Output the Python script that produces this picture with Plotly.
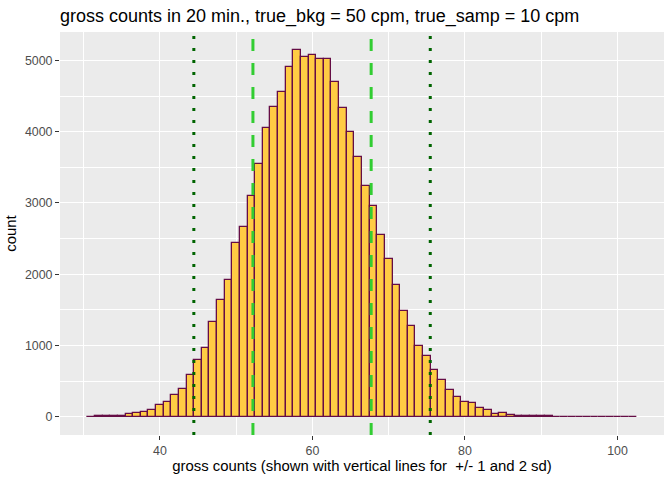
import plotly.graph_objects as go

# gross counts per bin (binwidth 1)
gross_counts = list(range(31, 103))
n_sims = [
    2, 12, 3, 12, 14, 40, 56, 68, 95, 165,
    200, 311, 390, 585, 795, 971, 1323, 1645, 1913, 2432,
    2657, 3092, 3541, 4047, 4342, 4553, 4904, 5143, 5049, 5073,
    5026, 5026, 4693, 4328, 3991, 3640, 3237, 2955, 2545, 2208,
    1843, 1478, 1271, 990, 845, 649, 522, 368, 270, 200,
    188, 115, 87, 31, 45, 20, 12, 9, 8, 6,
    5, 0, 0, 0, 0, 0, 0, 0, 0, 0,
    0, 1,
]

# vertical reference lines: mean +/- 1 sd and +/- 2 sd
lines_1sd = [52.2, 67.7]
lines_2sd = [44.45, 75.45]

title = "gross counts in 20 min., true_bkg = 50 cpm, true_samp = 10 cpm"
x_title = "gross counts (shown with vertical lines for \u00a0+/- 1 and 2 sd)"
y_title = "count"

fill_col = "#FFCC44"
edge_col = "#650D45"
font_fam = "Liberation Sans, Arial, sans-serif"

# ggplot-style 5% expansion
lo = min(gross_counts) - 0.5
hi = max(gross_counts) + 0.5
xpad = (hi - lo) * 0.05
ymax = max(n_sims)

fig = go.Figure()
fig.add_trace(go.Bar(
    x=gross_counts, y=n_sims, width=1,
    marker=dict(color=fill_col, line=dict(color=edge_col, width=1.3)),
    showlegend=False,
))

for xv in lines_1sd:
    fig.add_shape(type="line", x0=xv, x1=xv, y0=0, y1=1, xref="x", yref="paper",
                  line=dict(color="#32CD32", width=3, dash="12px,12px"), layer="above")
for xv in lines_2sd:
    fig.add_shape(type="line", x0=xv, x1=xv, y0=0, y1=1, xref="x", yref="paper",
                  line=dict(color="#006400", width=3, dash="3px,9px"), layer="above")

axis_common = dict(
    showgrid=True, gridcolor="white", gridwidth=1.4,
    zeroline=False, showline=False,
    ticks="outside", ticklen=4, tickwidth=1.1, tickcolor="#333333",
    tickfont=dict(family=font_fam, size=12.4, color="#4D4D4D"),
)

fig.update_xaxes(
    range=[lo - xpad, hi + xpad], tick0=0, dtick=20,
    minor=dict(dtick=10, showgrid=True, gridcolor="white", gridwidth=0.7, ticks=""),
    title=dict(text=x_title, font=dict(family=font_fam, size=14.9, color="black"), standoff=3),
    **axis_common,
)
fig.update_yaxes(
    range=[-0.05 * ymax, 1.05 * ymax], tick0=0, dtick=1000,
    minor=dict(dtick=500, showgrid=True, gridcolor="white", gridwidth=0.7, ticks=""),
    title=dict(text=y_title, font=dict(family=font_fam, size=14.9, color="black"), standoff=4),
    **axis_common,
)

fig.update_layout(
    width=672, height=480,
    margin=dict(l=60, r=8, t=32, b=45),
    plot_bgcolor="#EBEBEB", paper_bgcolor="white",
    bargap=0,
    title=dict(text=title, x=0, xref="paper", xanchor="left",
               y=1 - 16 / 480, yref="container", yanchor="middle",
               font=dict(family=font_fam, size=18, color="black")),
)

# drop the browser's default body margin so the figure sits at the page corner
fig.write_html("out.html", config={"displayModeBar": False},
               post_script="document.body.style.margin = '0px';")
